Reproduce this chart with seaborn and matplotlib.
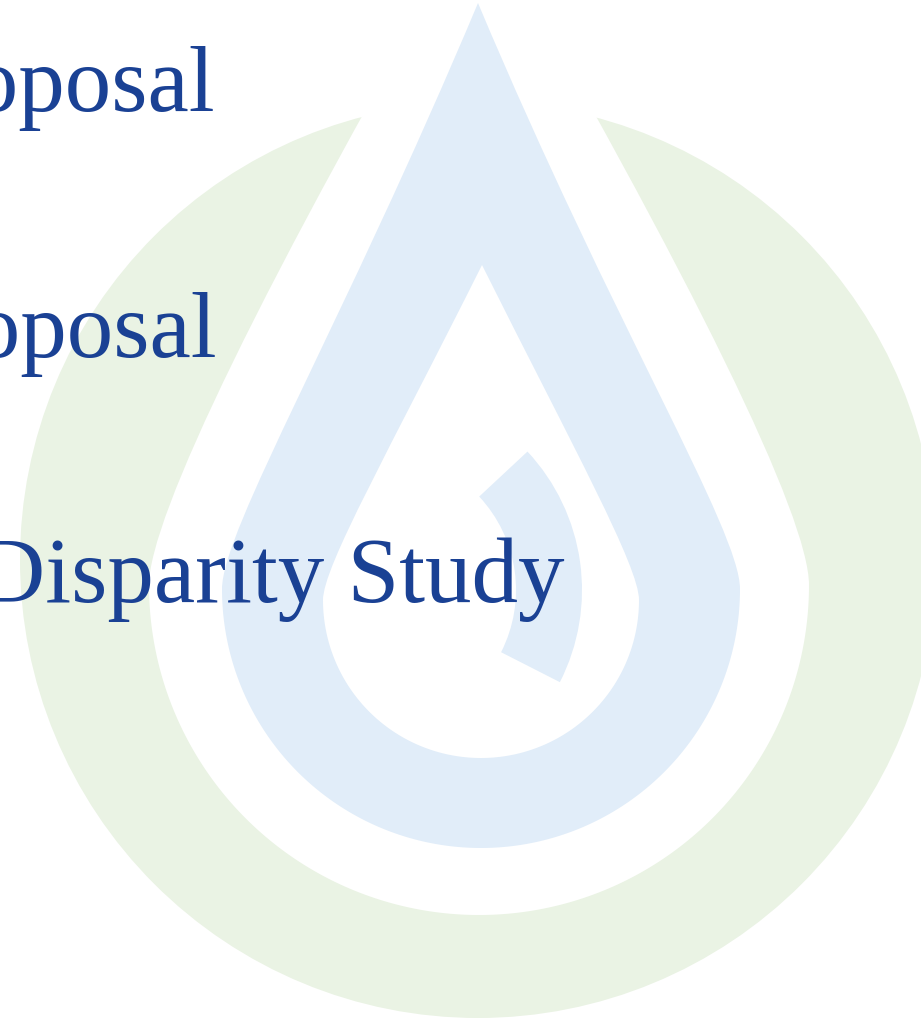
import numpy as np
import matplotlib
matplotlib.use("Agg")
import matplotlib.pyplot as plt
from matplotlib.patches import Circle, PathPatch, Wedge
from matplotlib.path import Path
import seaborn as sns

W, H = 921, 1025

# text lines (right edge x, baseline y in image pixels)
lines = ["Proposal", "Proposal", "Disparity Study"]
line_right = [215, 217, 564]
line_base = [111, 357, 602]

TEXT_COLOR = "#1a4194"
BLUE = "#e1edf9"
GREEN = "#eaf3e4"

# watermark geometry (image pixels, y down)
ring_outer = (478, 560, 458)
# drops: tip, bulb centre, bulb radius, slope of the sides at the tip
cutout = dict(tip=(479, -90), center=(479, 585), r=330, k=0.58)
drop = dict(tip=(478, 3), center=(481, 589), r=259, k=0.42)
hole = dict(tip=(482, 265), center=(481, 600), r=158, k=0.50)
arc_center = (379, 590)
arc_r = (137, 203)
arc_deg = (-27, 43)


def drop_path(tip, center, r, k, a=0.55, b=0.1, n=200):
    tx, ty = tip
    cx, cy = center
    L = cy - ty
    s, u = a * L, b * L
    verts = [(tx, ty), (tx - k * s, ty + s), (cx - r, cy - u), (cx - r, cy)]
    codes = [Path.MOVETO] + [Path.CURVE4] * 3
    for t in np.linspace(np.pi, 0, n)[1:]:
        verts.append((cx + r * np.cos(t), cy + r * np.sin(t)))
        codes.append(Path.LINETO)
    verts += [(cx + r, cy - u), (tx + k * s, ty + s), (tx, ty)]
    codes += [Path.CURVE4] * 3
    verts = np.array(verts, dtype=float)
    verts[:, 1] = H - verts[:, 1]
    return Path(verts, codes)


sns.set_theme(style="white")
plt.rcParams["font.family"] = ["Liberation Serif", "DejaVu Serif"]

fig = plt.figure(figsize=(W / 100, H / 100), dpi=100)
ax = fig.add_axes([0, 0, 1, 1])
ax.set_xlim(0, W)
ax.set_ylim(0, H)
ax.axis("off")

# green disc, hollowed by a larger drop shape
ax.add_patch(Circle((ring_outer[0], H - ring_outer[1]), ring_outer[2], color=GREEN, lw=0))
ax.add_patch(PathPatch(drop_path(**cutout), color="white", lw=0))

# blue drop with white hollow
ax.add_patch(PathPatch(drop_path(**drop), color=BLUE, lw=0))
ax.add_patch(PathPatch(drop_path(**hole), color="white", lw=0))

# inner arc piece
ax.add_patch(Wedge((arc_center[0], H - arc_center[1]), arc_r[1], arc_deg[0], arc_deg[1],
                   width=arc_r[1] - arc_r[0], color=BLUE, lw=0))

for txt, xr, yb in zip(lines, line_right, line_base):
    ax.text(xr, H - yb, txt, ha="right", va="baseline", fontsize=67,
            color=TEXT_COLOR)

fig.savefig("out.png", dpi=100, facecolor="white")
